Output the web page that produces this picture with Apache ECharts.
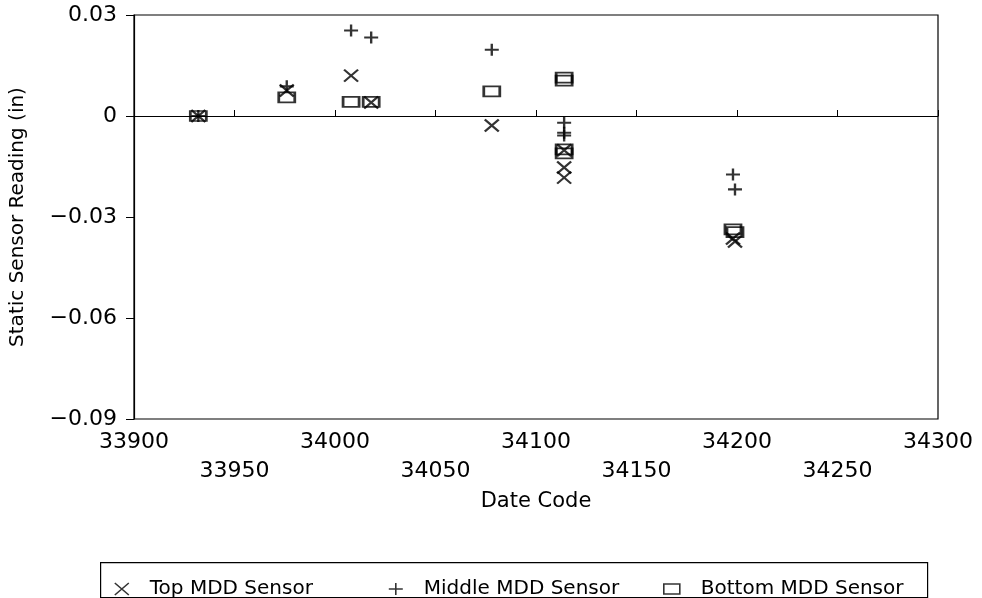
<!DOCTYPE html>
<html>
<head>
<meta charset="utf-8">
<style>
  html, body { margin: 0; padding: 0; background: #fff; }
  #chart { width: 982px; height: 598px; }
</style>
<script src="https://cdn.jsdelivr.net/npm/echarts@6/dist/echarts.min.js"></script>
</head>
<body>
<div id="chart"></div>
<script>
// Static MDD sensor readings (inches) by date code
const dateTop = [33932, 33976, 34008, 34018, 34078, 34114, 34114, 34114, 34198, 34199];
const topReading = [0, 0.0076, 0.012, 0.0040, -0.0028, -0.0102, -0.0153, -0.0183, -0.0364, -0.0373];

const dateMiddle = [33932, 33976, 34008, 34018, 34078, 34114, 34114, 34114, 34198, 34199];
const middleReading = [0, 0.0088, 0.0254, 0.0233, 0.0197, -0.0020, -0.0050, -0.0058, -0.0174, -0.0218];

const dateBottom = [33932, 33976, 34008, 34018, 34078, 34114, 34114, 34114, 34114, 34198, 34199];
const bottomReading = [0, 0.0055, 0.0042, 0.0042, 0.0073, 0.0114, 0.0105, -0.0099, -0.0111, -0.0337, -0.0345];

const seriesNames = ['Top MDD Sensor', 'Middle MDD Sensor', 'Bottom MDD Sensor'];

const FONT = 'DejaVu Sans';
const pair = (xs, ys) => xs.map((x, i) => [x, ys[i]]);

const crossSymbol = 'path://M0,0L14,12M14,0L0,12';
const plusSymbol = 'path://M0,6L14,6M7,0L7,12';

const markStyle = { color: 'transparent', borderColor: '#000', borderWidth: 2.2 };

const chart = echarts.init(document.getElementById('chart'), null, { renderer: 'canvas' });

chart.setOption({
  backgroundColor: '#fff',
  animation: false,
  grid: {
    left: 134, right: 44, top: 15, bottom: 179,
    outerBoundsMode: 'none',
    containLabel: false,
    show: true, borderColor: '#000', borderWidth: 1.2, backgroundColor: 'transparent'
  },
  xAxis: {
    type: 'value',
    min: 33900, max: 34300, interval: 50,
    name: 'Date Code',
    nameLocation: 'middle',
    nameGap: 69,
    nameTextStyle: { fontFamily: FONT, fontSize: 21, color: '#000' },
    axisLine: { show: true, lineStyle: { color: '#000', width: 1.2 } },
    axisTick: { show: true, inside: true, length: 6, lineStyle: { color: '#000' } },
    splitLine: { show: false },
    axisLabel: {
      margin: 9,
      fontFamily: FONT, fontSize: 22, color: '#000', lineHeight: 29,
      formatter: v => ((v - 33900) % 100 === 0 ? String(v) : '\n' + v)
    }
  },
  yAxis: {
    type: 'value',
    min: -0.09, max: 0.03, interval: 0.03,
    name: 'Static Sensor Reading (in)',
    nameLocation: 'middle',
    nameGap: 106,
    nameTextStyle: { fontFamily: FONT, fontSize: 20, color: '#000' },
    axisLine: { show: true, lineStyle: { color: '#000', width: 1.2 } },
    axisTick: { show: true, inside: false, length: 8, lineStyle: { color: '#000' } },
    splitLine: { show: false },
    axisLabel: {
      margin: 17,
      fontFamily: FONT, fontSize: 22, color: '#000',
      formatter: v => (Math.abs(v) < 1e-9 ? '0' : (v < 0 ? '\u2212' + Math.abs(v).toFixed(2) : v.toFixed(2)))
    }
  },
  legend: [
    { data: [seriesNames[0]], left: 109, top: 574, icon: crossSymbol, itemWidth: 14, itemHeight: 12 },
    { data: [seriesNames[1]], left: 383, top: 574, icon: plusSymbol, itemWidth: 14, itemHeight: 12 },
    { data: [seriesNames[2]], left: 658, top: 574, icon: 'rect', itemWidth: 16, itemHeight: 10 }
  ].map(l => Object.assign(l, {
    orient: 'horizontal',
    selectedMode: false,
    itemStyle: { color: 'transparent', borderColor: '#000', borderWidth: 1.6 },
    textStyle: { fontFamily: FONT, fontSize: 20, color: '#000', padding: [0, 0, 0, 16] }
  })),
  graphic: [
    {
      type: 'rect',
      left: 100, top: 562,
      shape: { width: 827, height: 35 },
      style: { fill: 'transparent', stroke: '#000', lineWidth: 1.2 },
      silent: true
    }
  ],
  series: [
    {
      name: seriesNames[0],
      type: 'scatter',
      symbol: crossSymbol,
      symbolSize: [14, 12],
      itemStyle: markStyle,
      data: pair(dateTop, topReading),
      z: 3
    },
    {
      name: seriesNames[1],
      type: 'scatter',
      symbol: plusSymbol,
      symbolSize: [14, 12],
      itemStyle: markStyle,
      data: pair(dateMiddle, middleReading),
      z: 3,
      markLine: {
        silent: true,
        symbol: 'none',
        label: { show: false },
        lineStyle: { color: '#000', width: 1.2, type: 'solid' },
        data: [{ yAxis: 0 }]
      }
    },
    {
      name: seriesNames[2],
      type: 'scatter',
      symbol: 'rect',
      symbolSize: [16, 10],
      itemStyle: markStyle,
      data: pair(dateBottom, bottomReading),
      z: 3
    }
  ]
});
</script>
</body>
</html>
